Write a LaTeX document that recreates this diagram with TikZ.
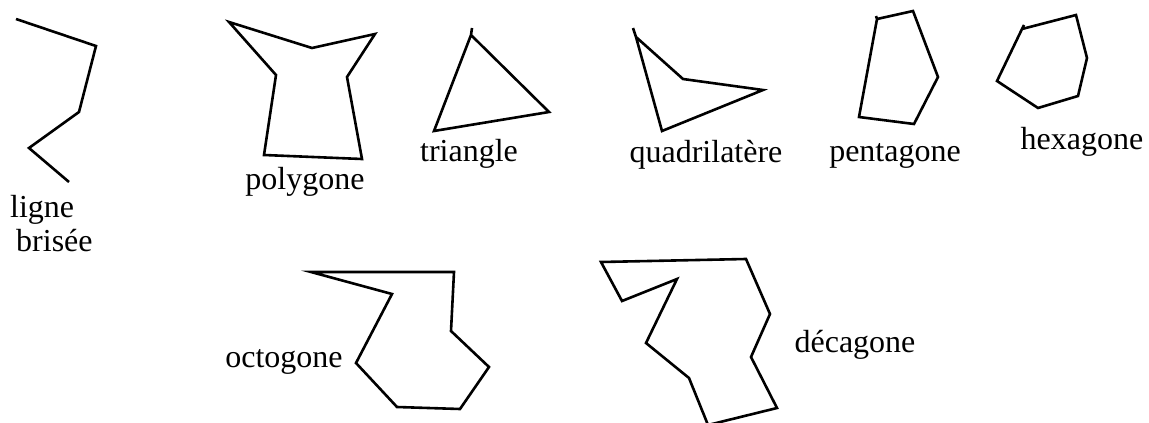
\documentclass[tikz,border=0pt]{standalone}
\usepackage{fontspec}
\setmainfont{Liberation Serif}
\begin{document}
\begin{tikzpicture}[x=1pt,y=-1pt,
  shape line/.style={line width=2.6pt,line join=miter,line cap=butt},
  lbl/.style={inner sep=0pt,anchor=base,font=\fontsize{32}{35}\selectfont}]
\useasboundingbox (0,0) rectangle (1149,423);
% ligne brisee
\draw[shape line] (16,19) -- (96,46) -- (79,112) -- (29,148) -- (69,182);
\node[lbl,anchor=base west] (ligne) at (10,217) {ligne};
\node[lbl,anchor=base west] (brisee) at (16,251) {brisée};
% polygone
\draw[shape line] (229,22) -- (312,48) -- (375,34) -- (347,77) -- (362,159) -- (264,155) -- (276,75) -- cycle;
\node[lbl] (polygone) at (305,189) {polygone};
% triangle
\draw[shape line] (472,28) -- (471,35) -- (549,112) -- (434,131) -- (471,35);
\node[lbl] (triangle) at (469,161) {triangle};
% quadrilatere
\draw[shape line] (633,28) -- (636,37) -- (683,79) -- (763,90) -- (662,131) -- (636,37);
\node[lbl] (quad) at (706,162) {quadrilatère};
% pentagone
\draw[shape line] (876,16) -- (877,19) -- (913,11) -- (938,77) -- (914,124) -- (859,117) -- (877,19);
\node[lbl] (pentagone) at (895,161) {pentagone};
% hexagone
\draw[shape line] (1024,25) -- (1022,29) -- (1076,15) -- (1087,58) -- (1078,96) -- (1038,108) -- (997,81) -- (1022,29);
\node[lbl] (hexagone) at (1082,149) {hexagone};
% octogone
\draw[shape line] (311,272) -- (454,272) -- (451,331) -- (489,367) -- (460,409) -- (397,407) -- (356,363) -- (392,294) -- cycle;
\node[lbl] (octogone) at (284,367) {octogone};
% decagone
\draw[shape line] (601,262) -- (746,259) -- (770,314) -- (751,357) -- (777,408) -- (708,425) -- (689,378) -- (646,343) -- (677,279) -- (622,301) -- cycle;
\node[lbl] (decagone) at (855,352) {décagone};
\end{tikzpicture}
\end{document}
